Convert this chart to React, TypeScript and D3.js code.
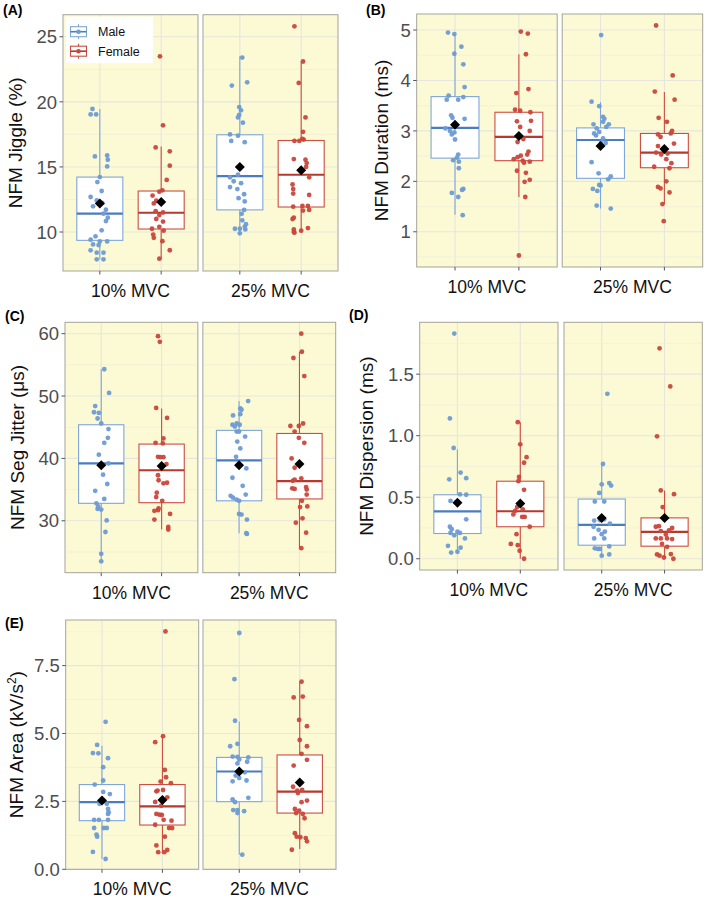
import React from "react";
import * as d3 from "d3";

// ---------- categories & styling ----------
const CONDITIONS = ["10% MVC", "25% MVC"];
const SEXES = ["Male", "Female"];
const POINT_COLORS = ["#6E9BD3", "#C9473B"];
const BOX_COLORS = ["#7EA6D9", "#CC4D41"];
const MEDIAN_COLORS = ["#4A7DC0", "#B5392D"];

type Pt = [number, number]; // [value, horizontal jitter in category steps]
type Box = [number, number, number, number, number, number]; // q1, median, q3, whisker low, whisker high, mean

// ---------- (A) NFM Jiggle (%) ----------
const jiggleM10: Pt[] = [[19.46,-0.12],[19.03,-0.15],[19.03,-0.06],[15.81,-0.08],[15.88,0.12],[15.55,0.13],[15.04,0.12],[14.22,0.0],[13.84,-0.04],[13.15,0.03],[12.69,-0.15],[12.43,-0.05],[12.23,0.04],[11.97,-0.11],[11.71,0.1],[11.41,0.06],[11.1,0.13],[10.84,0.1],[10.13,0.03],[9.67,-0.07],[9.41,-0.15],[9.28,0.0],[9.28,0.12],[9.05,-0.11],[9.0,-0.02],[8.59,-0.15],[8.41,0.06],[8.41,-0.05],[7.9,-0.05],[7.9,0.06]];
const jiggleF10: Pt[] = [[23.5,-0.02],[18.2,0.03],[16.5,-0.09],[16.2,0.14],[15.1,0.14],[14.0,0.09],[13.2,0.02],[13.1,-0.03],[12.8,-0.14],[12.4,-0.08],[12.2,-0.12],[11.6,-0.09],[11.5,0.03],[11.3,-0.03],[11.0,-0.08],[10.8,0.03],[10.4,-0.03],[10.1,0.04],[10.25,-0.15],[9.8,-0.13],[9.55,-0.12],[9.3,0.02],[8.6,0.14],[7.95,-0.03]];
const jiggleM25: Pt[] = [[23.4,0.04],[21.25,-0.13],[21.5,0.12],[19.6,-0.01],[19.35,0.02],[19.0,-0.01],[18.8,-0.03],[18.4,0.05],[17.5,-0.16],[17.4,-0.03],[17.0,-0.14],[16.9,0.08],[14.4,-0.03],[14.2,-0.16],[13.9,-0.1],[13.75,0.02],[13.45,-0.16],[13.3,-0.04],[12.9,0.07],[12.6,-0.02],[12.35,0.08],[11.7,0.07],[11.4,0.03],[10.9,0.04],[10.6,0.1],[10.4,0.08],[10.25,0.0],[10.25,-0.08],[10.2,0.09],[9.9,0.0]];
const jiggleF25: Pt[] = [[25.8,-0.11],[23.1,0.03],[21.45,-0.04],[18.8,0.07],[17.7,0.03],[17.15,0.02],[17.0,-0.03],[17.0,-0.11],[17.1,0.04],[15.6,-0.12],[15.55,0.07],[15.3,0.09],[15.0,0.08],[14.2,0.13],[13.65,-0.14],[13.3,-0.13],[12.95,-0.13],[12.85,0.13],[11.95,-0.13],[12.0,0.02],[12.0,0.11],[11.7,0.13],[11.65,0.03],[11.0,-0.14],[11.1,-0.12],[10.2,-0.12],[10.0,-0.12],[10.1,0.0],[10.3,0.11],[9.95,-0.11]];
const jiggleBoxes: Box[] = [[9.36,11.41,14.22,7.9,19.46,12.2],[10.23,11.48,13.15,7.9,16.57,12.3],[11.7,14.3,17.47,9.9,23.5,15.0],[11.92,14.4,17.03,9.95,23.1,14.75]];
const jiggleTicks = [10, 15, 20, 25];

// ---------- (B) NFM Duration (ms) ----------
const durationM10: Pt[] = [[4.95,-0.11],[4.92,-0.01],[4.67,0.1],[4.53,-0.01],[4.32,0.13],[3.87,0.15],[3.7,-0.1],[3.67,0.13],[3.62,-0.13],[3.62,0.05],[3.31,-0.06],[3.26,-0.04],[3.24,0.15],[3.05,-0.15],[3.0,-0.08],[2.97,-0.01],[2.93,-0.05],[2.83,0.0],[2.53,0.05],[2.47,0.03],[2.42,-0.03],[2.39,0.06],[2.26,0.06],[1.85,0.13],[1.83,0.11],[1.77,-0.05],[1.69,0.05],[1.33,0.12]];
const durationF10: Pt[] = [[4.97,0.03],[4.93,0.14],[4.52,0.11],[3.83,0.15],[3.75,-0.04],[3.42,-0.06],[3.4,0.02],[3.37,0.18],[3.19,-0.03],[3.2,0.19],[3.08,0.02],[3.0,0.17],[2.84,0.07],[2.78,-0.02],[2.59,0.15],[2.53,0.13],[2.51,0.03],[2.48,-0.02],[2.44,-0.08],[2.41,0.06],[2.39,0.17],[2.37,0.08],[2.21,-0.03],[2.17,0.11],[2.03,0.17],[1.99,0.09],[1.69,0.1],[0.53,0.0]];
const durationM25: Pt[] = [[4.9,0.01],[3.58,-0.14],[3.49,-0.02],[3.28,0.04],[3.24,0.06],[3.18,0.04],[3.13,-0.11],[3.13,0.13],[3.05,-0.06],[3.08,0.09],[2.98,-0.02],[2.95,-0.1],[2.91,-0.07],[2.85,0.04],[2.78,0.01],[2.76,0.08],[2.38,-0.14],[2.16,-0.03],[2.1,0.16],[2.04,0.12],[1.93,-0.02],[1.92,0.0],[1.85,-0.12],[1.81,-0.05],[1.52,-0.06],[1.46,0.16]];
const durationF25: Pt[] = [[5.09,-0.13],[4.1,0.13],[3.78,-0.15],[3.62,0.16],[3.26,-0.09],[3.18,0.04],[2.93,-0.1],[3.0,0.12],[2.95,0.1],[2.88,-0.06],[2.75,0.15],[2.7,-0.1],[2.57,-0.13],[2.53,-0.05],[2.55,0.05],[2.36,0.11],[2.44,0.03],[2.29,-0.16],[2.26,0.08],[2.0,0.03],[1.89,-0.1],[1.86,-0.06],[1.78,0.08],[1.55,-0.03],[1.21,-0.01]];
const durationBoxes: Box[] = [[2.46,3.06,3.68,1.34,4.91,3.12],[2.41,2.88,3.37,1.69,4.52,2.9],[2.06,2.82,3.06,1.46,3.57,2.7],[2.27,2.57,2.95,1.55,3.77,2.64]];
const durationTicks = [1, 2, 3, 4, 5];

// ---------- (C) NFM Seg Jitter (µs) ----------
const segJitterM10: Pt[] = [[54.3,0.05],[50.5,0.13],[48.4,-0.1],[47.4,-0.12],[47.3,-0.04],[46.4,-0.06],[45.6,0.0],[44.7,0.12],[43.3,0.11],[42.5,0.05],[40.6,-0.04],[39.2,0.12],[37.4,0.03],[35.9,0.1],[34.8,-0.1],[33.5,0.05],[32.8,-0.08],[32.3,-0.05],[31.9,-0.06],[31.8,0.0],[30.05,0.09],[28.2,0.07],[24.7,0.0],[23.5,0.0]];
const segJitterF10: Pt[] = [[59.6,-0.06],[58.7,-0.03],[48.1,-0.09],[46.5,0.09],[43.2,0.03],[42.5,-0.1],[42.4,0.02],[40.25,-0.06],[40.2,0.03],[40.2,-0.02],[39.1,0.08],[37.3,-0.06],[36.5,-0.05],[36.0,0.03],[36.1,0.09],[34.5,-0.08],[33.8,-0.09],[33.2,0.01],[32.0,-0.05],[31.6,-0.12],[31.7,-0.06],[31.1,0.14],[30.2,-0.12],[29.0,0.11],[28.6,0.11]];
const segJitterM25: Pt[] = [[49.2,0.15],[48.0,0.02],[47.8,0.04],[46.9,-0.1],[47.1,0.02],[45.4,-0.11],[45.6,-0.04],[45.4,0.01],[45.1,-0.07],[44.3,-0.04],[44.3,0.0],[43.5,0.1],[42.7,-0.03],[41.6,0.02],[40.25,-0.05],[38.4,0.12],[36.9,-0.11],[35.6,0.06],[34.2,0.11],[34.0,-0.14],[33.7,-0.1],[33.4,-0.04],[33.2,0.0],[31.1,0.0],[31.0,0.04],[30.2,0.13],[28.0,0.12],[27.9,0.13]];
const segJitterF25: Pt[] = [[60.0,0.03],[57.1,0.04],[56.1,-0.1],[53.2,0.08],[45.2,-0.15],[45.2,-0.01],[45.6,0.06],[44.3,-0.08],[43.3,-0.01],[42.5,0.08],[40.0,-0.13],[38.5,-0.08],[36.6,-0.08],[36.4,-0.11],[36.8,0.03],[35.2,-0.12],[35.1,-0.08],[35.4,0.11],[35.0,0.12],[34.2,0.12],[33.2,0.04],[32.2,0.01],[32.3,0.13],[30.4,0.05],[29.7,-0.06],[28.1,0.11],[25.6,0.03]];
const segJitterBoxes: Box[] = [[32.8,39.2,45.4,23.5,54.3,38.9],[32.9,38.1,42.3,28.6,48.0,38.8],[33.2,39.7,44.5,28.0,49.2,38.9],[33.5,36.35,44.0,25.6,57.1,39.1]];
const segJitterTicks = [30, 40, 50, 60];

// ---------- (D) NFM Dispersion (ms) ----------
const dispersionM10: Pt[] = [[1.83,-0.05],[1.14,-0.12],[0.9,-0.06],[0.7,0.05],[0.655,0.14],[0.645,-0.13],[0.523,0.04],[0.52,0.14],[0.47,-0.11],[0.46,-0.02],[0.32,0.14],[0.26,-0.12],[0.24,-0.09],[0.21,-0.11],[0.22,0.0],[0.21,0.04],[0.19,-0.05],[0.165,0.12],[0.105,-0.15],[0.09,0.05],[0.05,-0.1],[0.057,0.0]];
const dispersionF10: Pt[] = [[1.11,-0.04],[0.93,0.0],[0.825,0.1],[0.78,0.06],[0.665,-0.02],[0.63,-0.03],[0.56,0.06],[0.42,-0.05],[0.39,-0.08],[0.4,0.04],[0.36,-0.11],[0.34,0.07],[0.34,0.03],[0.26,0.15],[0.2,-0.06],[0.12,-0.15],[0.11,-0.04],[0.065,-0.01],[0.0,0.06]];
const dispersionM25: Pt[] = [[1.34,0.09],[0.77,0.02],[0.605,0.0],[0.615,0.12],[0.595,0.15],[0.535,-0.04],[0.465,-0.11],[0.465,0.04],[0.31,-0.12],[0.315,-0.03],[0.32,0.04],[0.285,0.13],[0.26,-0.13],[0.235,-0.05],[0.22,0.05],[0.2,0.0],[0.165,-0.12],[0.165,0.04],[0.1,0.12],[0.085,-0.11],[0.08,-0.06],[0.08,-0.03],[0.025,0.0],[0.035,0.12]];
const dispersionF25: Pt[] = [[1.71,-0.08],[1.4,0.09],[0.995,-0.12],[0.555,-0.06],[0.525,0.15],[0.42,-0.03],[0.26,-0.14],[0.265,-0.09],[0.25,0.12],[0.23,0.07],[0.225,-0.06],[0.197,0.02],[0.165,-0.14],[0.165,-0.06],[0.165,0.04],[0.16,0.12],[0.12,-0.04],[0.097,0.04],[0.035,-0.12],[0.025,-0.08],[0.038,0.1],[0.01,-0.01],[0.0,0.14]];
const dispersionBoxes: Box[] = [[0.205,0.385,0.52,0.05,0.89,0.455],[0.26,0.386,0.63,0.0,1.11,0.448],[0.11,0.275,0.485,0.025,0.77,0.332],[0.102,0.218,0.332,0.0,0.555,0.332]];
const dispersionTicks = [0, 0.5, 1.0, 1.5];

// ---------- (E) NFM Area (kV/s²) ----------
const areaM10: Pt[] = [[5.43,0.06],[4.58,-0.08],[4.28,-0.15],[4.27,-0.06],[4.09,0.1],[3.76,0.02],[3.27,0.02],[3.12,-0.12],[2.85,0.02],[2.77,0.13],[2.41,0.08],[2.41,-0.04],[2.22,0.1],[2.1,0.11],[2.04,0.1],[1.82,-0.13],[1.82,-0.05],[1.82,0.1],[1.52,0.03],[1.52,0.08],[1.52,-0.13],[1.28,-0.09],[1.2,-0.08],[0.64,-0.15],[0.38,0.06]];
const areaF10: Pt[] = [[8.76,0.05],[4.68,-0.12],[4.9,0.01],[3.66,0.04],[3.39,0.06],[3.23,-0.03],[3.17,0.14],[2.87,-0.1],[2.9,-0.08],[2.92,0.01],[2.48,-0.12],[2.65,0.08],[2.34,-0.02],[2.04,-0.1],[2.01,-0.05],[2.0,-0.01],[1.82,0.02],[1.79,0.15],[1.64,-0.12],[1.52,0.11],[1.52,0.16],[1.2,0.04],[0.88,-0.1],[0.63,-0.07],[0.63,0.03],[0.71,0.08]];
const areaM25: Pt[] = [[8.7,0.0],[7.0,-0.08],[5.47,-0.07],[4.62,-0.03],[4.53,-0.15],[4.15,-0.11],[4.14,-0.03],[4.04,0.0],[4.12,0.15],[3.96,0.13],[3.9,-0.03],[3.57,0.09],[3.45,-0.06],[3.36,0.0],[3.24,-0.11],[3.27,0.12],[2.63,0.15],[2.57,-0.11],[2.47,-0.07],[2.18,-0.03],[2.18,-0.1],[2.07,-0.03],[2.14,0.08],[0.54,0.05]];
const areaF25: Pt[] = [[6.91,0.03],[6.33,-0.1],[6.36,0.05],[5.5,-0.01],[5.27,0.12],[4.76,0.0],[4.53,0.12],[4.25,0.03],[4.03,0.12],[3.82,-0.1],[3.04,-0.11],[2.9,-0.04],[2.92,0.04],[2.81,-0.03],[2.53,0.12],[2.47,0.03],[2.22,-0.08],[2.16,-0.01],[2.04,0.05],[2.07,-0.06],[1.88,0.08],[1.33,-0.08],[1.2,-0.05],[1.18,0.01],[1.15,0.1],[1.03,0.12],[0.72,-0.13]];
const areaBoxes: Box[] = [[1.79,2.47,3.12,0.38,4.55,2.53],[1.63,2.32,3.12,0.59,4.9,2.55],[2.49,3.6,4.12,0.54,5.44,3.6],[2.07,2.86,4.21,0.75,6.91,3.2]];
const areaTicks = [0, 2.5, 5.0, 7.5];

// ---------- panel configuration ----------
type Layout = { left: number; right: number; gap: number; top: number; bottom: number; titleX: number; tagX: number; tagY: number };
type PanelCfg = {
  tag: string;
  title: React.ReactNode;
  groups: Pt[][]; // order: M10, F10, M25, F25
  boxes: Box[];
  ticks: number[];
  fmt: (n: number) => string;
  zeroFloor?: boolean;
  legend?: boolean;
  layout: Layout;
};

const FONT = "'Liberation Sans', Arial, Helvetica, sans-serif";

const panels: PanelCfg[] = [
  {
    tag: "(A)", title: "NFM Jiggle (%)",
    groups: [jiggleM10, jiggleF10, jiggleM25, jiggleF25], boxes: jiggleBoxes,
    ticks: jiggleTicks, fmt: d3.format("d"), legend: true,
    layout: { left: 63, right: 338, gap: 5, top: 14.7, bottom: 271, titleX: 22, tagX: 3, tagY: 15 },
  },
  {
    tag: "(B)", title: "NFM Duration (ms)",
    groups: [durationM10, durationF10, durationM25, durationF25], boxes: durationBoxes,
    ticks: durationTicks, fmt: d3.format("d"),
    layout: { left: 416.7, right: 702.7, gap: 5, top: 14, bottom: 267, titleX: 387.5, tagX: 366, tagY: 15 },
  },
  {
    tag: "(C)", title: "NFM Seg Jitter (\u03bcs)",
    groups: [segJitterM10, segJitterF10, segJitterM25, segJitterF25], boxes: segJitterBoxes,
    ticks: segJitterTicks, fmt: d3.format("d"),
    layout: { left: 65, right: 335.7, gap: 5, top: 322.3, bottom: 572.7, titleX: 24, tagX: 5, tagY: 321 },
  },
  {
    tag: "(D)", title: "NFM Dispersion (ms)",
    groups: [dispersionM10, dispersionF10, dispersionM25, dispersionF25], boxes: dispersionBoxes,
    ticks: dispersionTicks, fmt: d3.format(".1f"),
    layout: { left: 419.7, right: 702.3, gap: 6, top: 322.3, bottom: 570, titleX: 373, tagX: 349, tagY: 320 },
  },
  {
    tag: "(E)", title: null,
    groups: [areaM10, areaF10, areaM25, areaF25], boxes: areaBoxes,
    ticks: areaTicks, fmt: d3.format(".1f"), zeroFloor: true,
    layout: { left: 65.7, right: 336, gap: 4.3, top: 620, bottom: 869.3, titleX: 23, tagX: 5, tagY: 628 },
  },
];

function diamond(cx: number, cy: number, r: number) {
  return `M${cx},${cy - r}L${cx + r},${cy}L${cx},${cy + r}L${cx - r},${cy}Z`;
}

function Panel({ cfg }: { cfg: PanelCfg }) {
  const { left, right, gap, top, bottom, titleX, tagX, tagY } = cfg.layout;
  const fw = (right - left - gap) / 2;
  const allVals = cfg.groups.flat().map((p) => p[0]).concat(cfg.boxes.flatMap((b) => [b[3], b[4]]));
  const [mn, mx] = d3.extent(allVals) as [number, number];
  const span = mx - mn;
  const domain: [number, number] = cfg.zeroFloor ? [0, mx + span * 0.05] : [mn - span * 0.05, mx + span * 0.05];
  const y = d3.scaleLinear().domain(domain).range([bottom, top]);
  const step = cfg.ticks[1] - cfg.ticks[0];
  const minor = [cfg.ticks[0] - step / 2, ...cfg.ticks.map((t) => t + step / 2)].filter((t) => t >= domain[0] && t <= domain[1]);
  const midY = (top + bottom) / 2;

  return (
    <g>
      <text x={tagX} y={tagY} fontFamily={FONT} fontSize={14} fontWeight="bold" fill="#000">{cfg.tag}</text>
      {CONDITIONS.map((cond, fi) => {
        const x0 = left + fi * (fw + gap);
        const x = d3.scalePoint<string>().domain(SEXES).range([x0, x0 + fw]).padding(0.6);
        const stepW = x.step();
        const bw = stepW * 0.75;
        return (
          <g key={cond}>
            <rect x={x0} y={top} width={fw} height={bottom - top} fill="#FCFAD4" />
            {minor.map((t) => (
              <line key={"mn" + t} x1={x0} x2={x0 + fw} y1={y(t)} y2={y(t)} stroke="#EDEBDD" strokeWidth={0.6} />
            ))}
            {cfg.ticks.map((t) => (
              <line key={"mj" + t} x1={x0} x2={x0 + fw} y1={y(t)} y2={y(t)} stroke="#E6E5DE" strokeWidth={1.1} />
            ))}
            {SEXES.map((s) => (
              <line key={"v" + s} x1={x(s)} x2={x(s)} y1={top} y2={bottom} stroke="#E6E5DE" strokeWidth={1.1} />
            ))}
            {SEXES.map((s, si) => {
              const b = cfg.boxes[fi * 2 + si];
              const cx = x(s) as number;
              return (
                <g key={"b" + s}>
                  <line x1={cx} x2={cx} y1={y(b[4])} y2={y(b[2])} stroke={BOX_COLORS[si]} strokeWidth={1.1} />
                  <line x1={cx} x2={cx} y1={y(b[0])} y2={y(b[3])} stroke={BOX_COLORS[si]} strokeWidth={1.1} />
                  <rect x={cx - bw / 2} y={y(b[2])} width={bw} height={y(b[0]) - y(b[2])} fill="#FFFFFF" stroke={BOX_COLORS[si]} strokeWidth={1.1} />
                  <line x1={cx - bw / 2} x2={cx + bw / 2} y1={y(b[1])} y2={y(b[1])} stroke={MEDIAN_COLORS[si]} strokeWidth={2.2} />
                </g>
              );
            })}
            {SEXES.map((s, si) => {
              const pts = cfg.groups[fi * 2 + si];
              const cx = x(s) as number;
              return (
                <g key={"p" + s}>
                  {pts.map((p, k) => (
                    <circle key={k} cx={cx + p[1] * stepW} cy={y(p[0])} r={2.4} fill={POINT_COLORS[si]} fillOpacity={0.95} />
                  ))}
                </g>
              );
            })}
            {SEXES.map((s, si) => {
              const b = cfg.boxes[fi * 2 + si];
              return <path key={"m" + s} d={diamond(x(s) as number, y(b[5]), 5)} fill="#000" />;
            })}
            <rect x={x0} y={top} width={fw} height={bottom - top} fill="none" stroke="#A3A39B" strokeWidth={1} />
            {SEXES.map((s) => (
              <line key={"t" + s} x1={x(s)} x2={x(s)} y1={bottom} y2={bottom + 3.5} stroke="#555" strokeWidth={1} />
            ))}
            <text x={x0 + fw / 2} y={bottom + 26} textAnchor="middle" fontFamily={FONT} fontSize={17.5} fill="#111">{cond}</text>
          </g>
        );
      })}
      {cfg.ticks.map((t) => (
        <g key={"yt" + t}>
          <line x1={left - 3.5} x2={left} y1={y(t)} y2={y(t)} stroke="#555" strokeWidth={1} />
          <text x={left - 6} y={y(t)} dy="0.36em" textAnchor="end" fontFamily={FONT} fontSize={18.5} fill="#4D4D4D">{cfg.fmt(t)}</text>
        </g>
      ))}
      <text transform={`translate(${titleX},${midY}) rotate(-90)`} textAnchor="middle" fontFamily={FONT} fontSize={19} fill="#111">
        {cfg.title !== null ? cfg.title : (
          <>
            NFM Area (kV/s<tspan dy={-7} fontSize={12}>2</tspan><tspan dy={7}>)</tspan>
          </>
        )}
      </text>
      {cfg.legend && (
        <g>
          <rect x={left + 3} y={top + 2} width={87} height={46.5} fill="#FFFFFF" />
          {SEXES.map((s, si) => {
            const cy = top + 17 + si * 19.5;
            const kx = left + 15.5;
            return (
              <g key={"lg" + s}>
                <line x1={kx} x2={kx} y1={cy - 7.5} y2={cy + 7.5} stroke={BOX_COLORS[si]} strokeWidth={1.1} />
                <rect x={kx - 8} y={cy - 5} width={16} height={10} fill="#FFFFFF" stroke={BOX_COLORS[si]} strokeWidth={1.1} />
                <line x1={kx - 8} x2={kx + 8} y1={cy} y2={cy} stroke={MEDIAN_COLORS[si]} strokeWidth={1.6} />
                <circle cx={kx} cy={cy} r={2.3} fill={POINT_COLORS[si]} />
                <text x={left + 35} y={cy} dy="0.35em" fontFamily={FONT} fontSize={12.5} fill="#111">{s}</text>
              </g>
            );
          })}
        </g>
      )}
    </g>
  );
}

export default function App() {
  return (
    <div style={{ position: "absolute", left: 0, top: 0 }}>
      <svg width={709} height={898} style={{ display: "block", background: "#FFFFFF" }}>
        {panels.map((p) => (
          <Panel key={p.tag} cfg={p} />
        ))}
      </svg>
    </div>
  );
}
